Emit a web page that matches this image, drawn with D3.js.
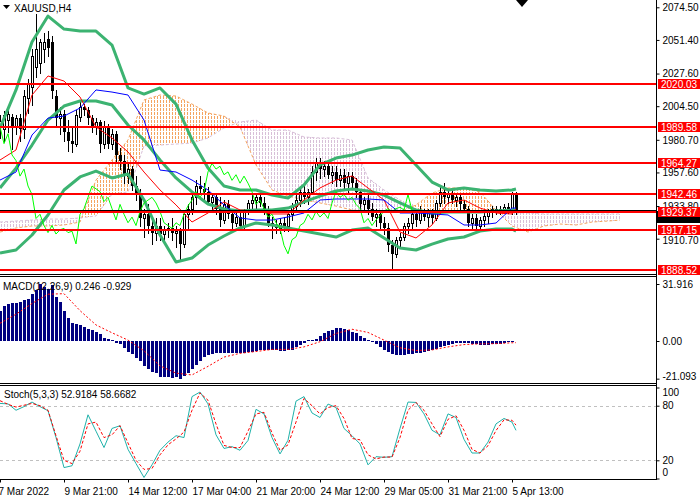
<!DOCTYPE html>
<html>
<head>
<meta charset="utf-8">
<title>XAUUSD,H4</title>
<script src="https://cdn.jsdelivr.net/npm/d3@7"></script>
<style>
    body { margin: 0; background: #ffffff; }
    #chart svg { display: block; }
    #chart text { font-family: "Liberation Sans", Arial, sans-serif; font-size: 10px; }
</style>
</head>
<body>
<div id="chart"></div>
<script>
// H4 candles, bar 0 sits on the left edge of the chart
var opens = [
    1990,1988,1995,1997,1990,1996,1988,2010,2018,2032,
    2035,2045,2052,2050,2012,1996,1999,1986,1980,1978,
    1997,2004,2002,1996,1990,1993,1978,1990,1978,1985,
    1970,1966,1955,1960,1948,1942,1925,1928,1920,1915,
    1920,1914,1917,1918,1915,1916,1907,1928,1932,1940,
    1948,1946,1944,1937,1940,1932,1924,1935,1928,1922,
    1926,1920,1930,1936,1938,1940,1936,1930,1922,1920,
    1918,1922,1920,1928,1934,1938,1944,1940,1944,1958,
    1964,1960,1962,1956,1958,1952,1956,1950,1955,1950,
    1944,1935,1938,1932,1926,1928,1922,1918,1906,1900,
    1910,1912,1920,1922,1928,1924,1930,1926,1929,1925,
    1936,1944,1940,1942,1938,1940,1935,1932,1922,1925,
    1920,1924,1927,1930,1932,1930,1932,1933,1930,1942];
var highs = [
    1998,2001,2002,1999,1998,1999,2016,2024,2045,2070,
    2052,2056,2058,2054,2016,2004,2002,1995,1990,2002,
    2008,2006,2004,1998,1996,1995,1994,1992,1988,1987,
    1975,1970,1965,1962,1955,1946,1932,1935,1924,1925,
    1925,1920,1922,1925,1920,1918,1930,1935,1942,1952,
    1955,1950,1947,1942,1943,1940,1938,1938,1932,1930,
    1930,1932,1938,1942,1942,1944,1940,1934,1926,1924,
    1925,1926,1930,1936,1942,1948,1950,1946,1962,1968,
    1968,1966,1965,1962,1962,1960,1960,1958,1958,1954,
    1946,1940,1942,1936,1932,1930,1926,1922,1910,1912,
    1915,1922,1925,1930,1930,1934,1932,1932,1932,1938,
    1948,1950,1946,1945,1942,1942,1938,1934,1928,1928,
    1926,1930,1932,1934,1934,1934,1935,1936,1944,1944];
var lows = [
    1982,1980,1986,1974,1985,1980,1982,2000,2005,2025,
    2028,2036,2040,2010,1990,1985,1980,1973,1972,1976,
    1994,1998,1992,1986,1985,1972,1975,1975,1974,1966,
    1960,1950,1950,1945,1938,1920,1912,1915,1907,1910,
    1910,1908,1912,1910,1905,1896,1905,1918,1928,1935,
    1942,1938,1935,1932,1928,1920,1922,1925,1918,1920,
    1918,1918,1928,1932,1932,1934,1928,1920,1911,1915,
    1915,1916,1916,1924,1930,1934,1936,1935,1942,1952,
    1954,1955,1954,1950,1948,1948,1945,1944,1946,1940,
    1932,1930,1928,1924,1920,1918,1914,1902,1889,1898,
    1904,1910,1915,1918,1920,1922,1924,1920,1922,1924,
    1934,1936,1936,1936,1934,1932,1930,1920,1918,1918,
    1916,1920,1922,1926,1928,1928,1929,1929,1928,1928];
var closes = [
    1994,1998,1999,1990,1996,1988,2012,2020,2040,2045,
    2050,2050,2046,2015,1996,1999,1986,1980,1978,1998,
    2004,2002,1996,1990,1993,1978,1990,1978,1985,1970,
    1966,1955,1960,1948,1942,1925,1928,1920,1915,1920,
    1914,1917,1918,1915,1916,1907,1928,1932,1940,1948,
    1946,1944,1937,1940,1932,1924,1935,1928,1922,1926,
    1920,1930,1936,1938,1940,1936,1930,1922,1920,1918,
    1922,1920,1928,1934,1938,1944,1940,1944,1958,1964,
    1960,1962,1956,1958,1952,1956,1950,1955,1950,1944,
    1935,1938,1932,1926,1928,1922,1918,1906,1900,1910,
    1912,1920,1922,1928,1924,1930,1926,1929,1925,1936,
    1944,1940,1942,1938,1940,1935,1932,1922,1925,1920,
    1924,1927,1930,1932,1930,1932,1933,1931,1942,1930.6];
var bidPrice = 1930.6;

// indicator readings, one every 4th bar
var lineBars = [0,4,8,12,16,20,24,28,32,36,40,44,48,52,56,60,64,68,72,76,80,84,88,92,96,100,104,108,112,116,120,124,128,129];
var bbUpper = [1989.1,2016.0,2049.9,2068.3,2059.1,2057.7,2057.7,2047.8,2017.4,2013.1,2017.4,2006.0,1980.6,1960.7,1948.0,1945.2,1945.2,
    1941.6,1939.5,1948.7,1962.9,1967.8,1969.9,1973.5,1975.6,1974.9,1962.9,1950.8,1945.2,1946.6,1945.2,1944.5,1945.2,1945.9];
var bbMiddle = [1946.6,1960.7,1977.0,1994.7,2004.6,2008.2,2008.2,2005.3,1991.2,1980.6,1966.4,1953.7,1943.8,1935.3,1931.7,1930.3,1931.0,
    1931.0,1932.4,1936.7,1940.9,1944.5,1945.9,1944.5,1941.6,1936.0,1931.0,1928.9,1929.6,1929.6,1929.6,1930.3,1931.0,1931.0];
var bbLower = [1900.6,1902.7,1913.3,1927.5,1945.2,1954.4,1958.6,1953.7,1956.5,1938.1,1913.3,1894.2,1897.0,1906.2,1912.6,1918.3,1921.8,
    1920.4,1918.3,1916.1,1914.0,1911.9,1916.8,1918.3,1911.2,1904.1,1902.7,1906.9,1910.5,1911.9,1916.1,1917.6,1917.6,1916.1];
var tenkan = [1966.4,1973.5,2012.4,2025.9,2022.3,2011.0,1989.8,1982.0,1972.1,1957.9,1945.2,1934.6,1922.5,1928.9,1936.7,1931.0,1930.3,
    1928.2,1928.2,1938.1,1946.6,1952.2,1955.1,1946.6,1938.1,1915.4,1911.2,1920.4,1936.0,1938.1,1932.4,1928.9,1928.2,1931.7];
var kijun = [1952.2,1957.9,1984.1,1996.1,1997.5,2003.2,2016.0,2014.5,2012.4,1994.7,1959.3,1957.9,1952.2,1945.2,1934.6,1925.4,1923.9,
    1923.9,1926.1,1928.9,1938.1,1938.8,1938.8,1938.8,1938.1,1928.9,1928.9,1928.2,1927.5,1920.4,1920.4,1921.8,1932.4,1932.4];

// ichimoku cloud, runs 26 bars past the last candle
var cloudBars = [0,4,8,12,16,20,24,28,32,36,40,44,48,52,56,60,64,68,72,76,80,84,88,92,96,100,104,108,112,116,120,124,128,132,136,140,144,148,152,155];
var spanA = [1915.4,1918.3,1919.7,1919.7,1920.4,1922.5,1952.2,1966.4,1980.6,2008.9,2012.4,2011.7,2006.0,1999.7,1997.5,1989.8,1962.9,1945.2,1940.9,1938.1,
    1936.0,1933.8,1931.0,1930.3,1929.6,1929.6,1934.6,1943.0,1946.6,1946.6,1943.8,1931.0,1919.7,1915.4,1919.7,1921.1,1920.4,1922.5,1923.2,1923.9];
var spanB = [1922.5,1923.2,1923.9,1924.6,1924.6,1925.4,1926.8,1942.3,1943.8,1976.3,1977.0,1977.7,1978.4,1982.0,1989.1,1993.3,1994.7,1987.6,1987.6,1982.7,
    1982.0,1982.0,1980.6,1953.7,1945.2,1938.1,1931.0,1929.6,1929.6,1929.6,1929.6,1929.6,1928.9,1928.9,1928.2,1928.2,1928.2,1928.2,1928.2,1928.2];

// MACD(12,26,9): histogram per bar, signal every 4th bar
var macdHist = [
    17.0,19.6,20.5,21.1,21.5,21.7,23.0,23.7,26.3,28.6,31.9,30.4,29.2,31.2,24.8,22.0,17.0,13.0,10.3,9.5,
    8.8,7.7,6.5,6.2,5.0,3.9,1.9,1.3,0.7,-1.0,-1.7,-4.1,-6.0,-7.3,-9.7,-11.0,-13.8,-15.5,-17.2,-18.1,
    -20.0,-20.3,-20.3,-20.5,-20.3,-21.09,-19.6,-18.1,-15.9,-13.4,-11.0,-9.1,-8.0,-7.3,-6.5,-6.5,-6.5,-6.9,-6.9,-6.9,
    -6.9,-6.5,-6.0,-6.0,-5.4,-5.1,-5.1,-5.1,-5.1,-5.1,-5.4,-5.4,-5.1,-4.9,-3.6,-2.4,-1.3,0.4,0.6,1.0,
    2.6,4.3,5.6,6.3,7.1,7.1,6.5,5.9,5.2,4.2,3.0,1.8,0.8,-0.5,-1.8,-3.5,-5.0,-6.2,-7.2,-7.8,
    -7.9,-7.8,-7.5,-7.2,-6.8,-6.5,-6.0,-5.5,-5.0,-4.2,-3.5,-2.6,-2.0,-1.5,-1.2,-1.0,-0.9,-1.1,-1.5,-1.8,
    -2.0,-2.1,-2.0,-1.8,-1.6,-1.4,-1.1,-0.8,-0.3,0.246];
var macdSignal = [9.9,15.0,21.0,26.2,26.5,17.0,9.0,4.6,0.5,-5.5,-13.9,-18.0,-19.0,-14.2,-9.0,-6.9,-5.9,
    -4.7,-4.7,-3.3,-0.4,4.2,6.6,4.8,0.5,-3.8,-5.3,-5.0,-3.3,-2.0,-1.6,-1.5,-1.0,-0.929];

// Stochastic(5,3,3), every 2nd bar
var stochBars = [0,2,4,6,8,10,12,14,16,18,20,22,24,26,28,30,32,34,36,38,40,42,44,46,48,50,52,54,56,58,60,62,64,
    66,68,70,72,74,76,78,80,82,84,86,88,90,92,94,96,98,100,102,104,106,108,110,112,114,116,118,120,122,124,126,128,129];
var stochMain = [82.5,82,75,79,84,79,74.5,45,12,14,38,70,52,34,55,58,32,16.4,1.1,15,31,40,47,45,90,95,82,48,33,35,31,41.8,76,
    71,45,27,42,85,90,72,67,81.8,78,55,47,38,15,24,23.3,24,55,84,83.6,71,53,48,71,67,43,28,28,40,60,66,62,52.9184];
var stochSignal = [85.5,81.5,78.5,80.5,82.5,80,75,47,20,16.4,30,60,62,45,48,58,39,20,10,11,26,37,43.5,51,75,94,86,60,36.4,34,34,52,71,
    72.7,50,30.9,37,62,88,80,70.9,78,80,66,44,42.5,26,21.5,23.6,23.5,45,75,83.6,75,60,46,65,69,53,32,28,36,52.7,64.5,64,58.6682];

// horizontal levels and axis labels
var levels = [2020.03, 1989.58, 1964.27, 1942.46, 1929.37, 1917.15, 1888.52];
var priceTicks = [2074.50, 2051.40, 2027.60, 2004.50, 1980.70, 1957.60, 1933.80, 1910.70];
var macdTicks = [31.916, 0, -21.093];
var macdTickLabels = ["31.916", "0.00", "-21.093"];
var stochTicks = [100, 80, 20, 0];
var stochLevels = [80, 20];
var timeBars = [0, 16, 32, 48, 64, 80, 96, 112, 128];
var timeLabels = ["7 Mar 2022", "9 Mar 21:00", "14 Mar 12:00", "17 Mar 04:00", "21 Mar 20:00",
    "24 Mar 12:00", "29 Mar 05:00", "31 Mar 21:00", "5 Apr 13:00"];


var plotRight = 656;
var fontFamily = "Liberation Sans, Arial, sans-serif";

var x = d3.scaleLinear().domain([0, 129]).range([0, 516]);
var yPrice = d3.scaleLinear().domain([1910.7, 2074.5]).range([238.7, 7.3]);
var yMacd = d3.scaleLinear().domain([0, 31.916]).range([341, 284]);
var yStoch = d3.scaleLinear().domain([0, 100]).range([478.5, 387.5]);

var svg = d3.select("#chart").append("svg")
    .attr("width", 700)
    .attr("height", 500)
    .attr("viewBox", [0, 0, 700, 500]);

var defs = svg.append("defs");

function addClip(id, x0, y0, x1, y1) {
    defs.append("clipPath").attr("id", id)
        .append("rect")
        .attr("x", x0).attr("y", y0)
        .attr("width", x1 - x0).attr("height", y1 - y0);
}
addClip("clipMain", 0, 0, plotRight, 274);
addClip("clipMacd", 0, 277, plotRight, 383);
addClip("clipStoch", 0, 386, plotRight, 479);

// MT4 style hatch for the kumo: short vertical dashes
function addHatch(id, color) {
    var p = defs.append("pattern").attr("id", id)
        .attr("patternUnits", "userSpaceOnUse")
        .attr("width", 3).attr("height", 4);
    p.append("rect")
        .attr("x", 1).attr("y", 0)
        .attr("width", 1).attr("height", 3)
        .attr("fill", color);
}
addHatch("hatchA", "#f4a460");
addHatch("hatchB", "#d8bfd8");

function drawLine(g, bars, values, yScale, color, w, dash) {
    var line = d3.line()
        .x((d, i) => x(bars[i]))
        .y(d => yScale(d));
    var path = g.append("path")
        .datum(values)
        .attr("d", line)
        .attr("fill", "none")
        .attr("stroke", color)
        .attr("stroke-width", w)
        .attr("stroke-linejoin", "round");
    if (dash) path.attr("stroke-dasharray", dash);
    return path;
}


// Main window
var main = svg.append("g").attr("clip-path", "url(#clipMain)");

var cloud = cloudBars.map((b, i) => ({ bar: b, a: spanA[i], b: spanB[i] }));

var cloudUp = d3.area()
    .x(d => x(d.bar))
    .y0(d => yPrice(d.b))
    .y1(d => yPrice(Math.max(d.a, d.b)));

var cloudDown = d3.area()
    .x(d => x(d.bar))
    .y0(d => yPrice(d.a))
    .y1(d => yPrice(Math.max(d.a, d.b)));

main.append("path").datum(cloud).attr("d", cloudUp)
    .attr("fill", "url(#hatchA)").attr("shape-rendering", "crispEdges");
main.append("path").datum(cloud).attr("d", cloudDown)
    .attr("fill", "url(#hatchB)").attr("shape-rendering", "crispEdges");
drawLine(main, cloudBars, spanA, yPrice, "#f4a460", 1, "3,2");
drawLine(main, cloudBars, spanB, yPrice, "#d8bfd8", 1, "3,2");

// candles
var barIndex = d3.range(opens.length);
var isBull = i => closes[i] >= opens[i];
var candleX = i => Math.round(x(i));
var bodyTop = i => Math.round(yPrice(Math.max(opens[i], closes[i])));
var bodyBottom = i => Math.round(yPrice(Math.min(opens[i], closes[i])));

var candles = main.append("g")
    .selectAll(".candle")
    .data(barIndex).enter()
    .append("g")
    .attr("class", "candle")
    .attr("shape-rendering", "crispEdges");

candles.append("line")
    .attr("x1", i => candleX(i) + 0.5)
    .attr("x2", i => candleX(i) + 0.5)
    .attr("y1", i => Math.round(yPrice(highs[i])))
    .attr("y2", i => Math.round(yPrice(lows[i])) + 1)
    .attr("stroke", "#000000");

candles.append("rect")
    .attr("x", i => isBull(i) ? candleX(i) - 0.5 : candleX(i) - 1)
    .attr("y", i => isBull(i) ? bodyTop(i) + 0.5 : bodyTop(i))
    .attr("width", i => isBull(i) ? 2 : 3)
    .attr("height", i => Math.max(1, bodyBottom(i) - bodyTop(i)))
    .attr("fill", i => isBull(i) ? "#ffffff" : "#000000")
    .attr("stroke", i => isBull(i) ? "#000000" : "none");

// Bollinger bands and Ichimoku lines
drawLine(main, lineBars, bbUpper, yPrice, "#3cb371", 3);
drawLine(main, lineBars, bbMiddle, yPrice, "#3cb371", 3);
drawLine(main, lineBars, bbLower, yPrice, "#3cb371", 3);
drawLine(main, lineBars, tenkan, yPrice, "#ff0000", 1);
drawLine(main, lineBars, kijun, yPrice, "#0000ff", 1);

// chikou span: closes plotted 26 bars back
var chikouBars = barIndex.map(i => i - 26);
drawLine(main, chikouBars, closes, yPrice, "#00ff00", 1);

// levels
main.selectAll(".level")
    .data(levels).enter()
    .append("line")
    .attr("class", "level")
    .attr("x1", 0).attr("x2", plotRight)
    .attr("y1", d => Math.round(yPrice(d)))
    .attr("y2", d => Math.round(yPrice(d)))
    .attr("stroke", "#ff0000")
    .attr("stroke-width", 2);

main.append("line")
    .attr("x1", 0).attr("x2", plotRight)
    .attr("y1", Math.round(yPrice(bidPrice)) - 0.5)
    .attr("y2", Math.round(yPrice(bidPrice)) - 0.5)
    .attr("stroke", "#000000")
    .attr("stroke-width", 1);


// MACD window
var macdG = svg.append("g").attr("clip-path", "url(#clipMacd)");

macdG.selectAll(".hist")
    .data(macdHist).enter()
    .append("rect")
    .attr("class", "hist")
    .attr("shape-rendering", "crispEdges")
    .attr("x", (d, i) => candleX(i) - 1)
    .attr("width", 3)
    .attr("y", d => Math.min(yMacd(0), yMacd(d)))
    .attr("height", d => Math.abs(yMacd(d) - yMacd(0)))
    .attr("fill", "#000080");

drawLine(macdG, lineBars, macdSignal, yMacd, "#ff0000", 1, "2,2");


// Stochastic window
var stochG = svg.append("g").attr("clip-path", "url(#clipStoch)");

stochG.selectAll(".slevel")
    .data(stochLevels).enter()
    .append("line")
    .attr("x1", 0).attr("x2", plotRight)
    .attr("y1", d => Math.round(yStoch(d)) + 0.5)
    .attr("y2", d => Math.round(yStoch(d)) + 0.5)
    .attr("stroke", "#c0c0c0")
    .attr("stroke-dasharray", "3,3");

drawLine(stochG, stochBars, stochMain, yStoch, "#20b2aa", 1);
drawLine(stochG, stochBars, stochSignal, yStoch, "#ff0000", 1, "3,2");


// frames
var frames = svg.append("g")
    .attr("stroke", "#000000")
    .attr("shape-rendering", "crispEdges");
[274.5, 276.5, 383.5, 385.5, 479.5].forEach(function (yy) {
    frames.append("line").attr("x1", 0).attr("x2", plotRight + 1).attr("y1", yy).attr("y2", yy);
});
frames.append("line").attr("x1", plotRight + 0.5).attr("x2", plotRight + 0.5).attr("y1", 0).attr("y2", 480);


// axes
function styleAxis(g) {
    g.select(".domain").remove();
    g.attr("font-family", fontFamily).attr("font-size", 10);
    g.selectAll(".tick line").attr("stroke", "#000000");
    g.selectAll(".tick text").attr("fill", "#000000");
}

svg.append("g")
    .attr("transform", `translate(${plotRight + 0.5}, 0)`)
    .call(d3.axisRight(yPrice).tickValues(priceTicks).tickSize(3).tickPadding(3).tickFormat(d3.format(".2f")))
    .call(styleAxis)
    .selectAll(".tick text")
    .attr("y", d => d == 1910.70 ? 1.5 : 0);

svg.append("g")
    .attr("transform", `translate(${plotRight + 0.5}, 0)`)
    .call(d3.axisRight(yMacd).tickValues(macdTicks).tickSize(3).tickPadding(3).tickFormat((d, i) => macdTickLabels[i]))
    .call(styleAxis)
    .selectAll(".tick text")
    .attr("y", d => d < 0 ? -2 : 0);

svg.append("g")
    .attr("transform", `translate(${plotRight + 0.5}, 0)`)
    .call(d3.axisRight(yStoch).tickValues(stochTicks).tickSize(3).tickPadding(3))
    .call(styleAxis)
    .selectAll(".tick text")
    .attr("y", d => d == 100 ? 4.5 : (d == 0 ? -6.5 : 0));

svg.append("g")
    .attr("transform", "translate(0, 479.5)")
    .call(d3.axisBottom(x).tickValues(timeBars).tickSize(3).tickPadding(5).tickFormat((d, i) => timeLabels[i]))
    .call(styleAxis)
    .selectAll(".tick text")
    .attr("text-anchor", "start")
    .attr("dx", (d, i) => i == 0 ? -2 : 0);

// price labels of the bid and the levels
svg.append("rect")
    .attr("x", plotRight + 1).attr("y", Math.round(yPrice(bidPrice)))
    .attr("width", 700 - plotRight).attr("height", 12)
    .attr("fill", "#000000");

var levelTags = svg.selectAll(".levelTag")
    .data(levels).enter()
    .append("g")
    .attr("class", "levelTag")
    .attr("transform", d => `translate(${plotRight + 2}, ${Math.round(yPrice(d))})`);

levelTags.append("rect")
    .attr("x", 0).attr("y", -5)
    .attr("width", 700 - plotRight - 2).attr("height", 10)
    .attr("fill", "#ff0000");

levelTags.append("text")
    .attr("x", 3).attr("y", 3.5)
    .attr("fill", "#ffffff")
    .text(d => d3.format(".2f")(d));


// titles
svg.append("path")
    .attr("d", "M3,5 L10,5 L6.5,9 Z")
    .attr("fill", "#000000");

svg.append("text")
    .attr("x", 14).attr("y", 12)
    .attr("fill", "#000000")
    .text("XAUUSD,H4");

svg.append("path")
    .attr("d", "M516,0 L528,0 L522,7 Z")
    .attr("fill", "#000000");

svg.append("text")
    .attr("x", 3).attr("y", 290)
    .attr("fill", "#000000")
    .text("MACD(12,26,9) 0.246 -0.929");

svg.append("text")
    .attr("x", 4).attr("y", 398)
    .attr("fill", "#000000")
    .text("Stoch(5,3,3) 52.9184 58.6682");
</script>
</body>
</html>
